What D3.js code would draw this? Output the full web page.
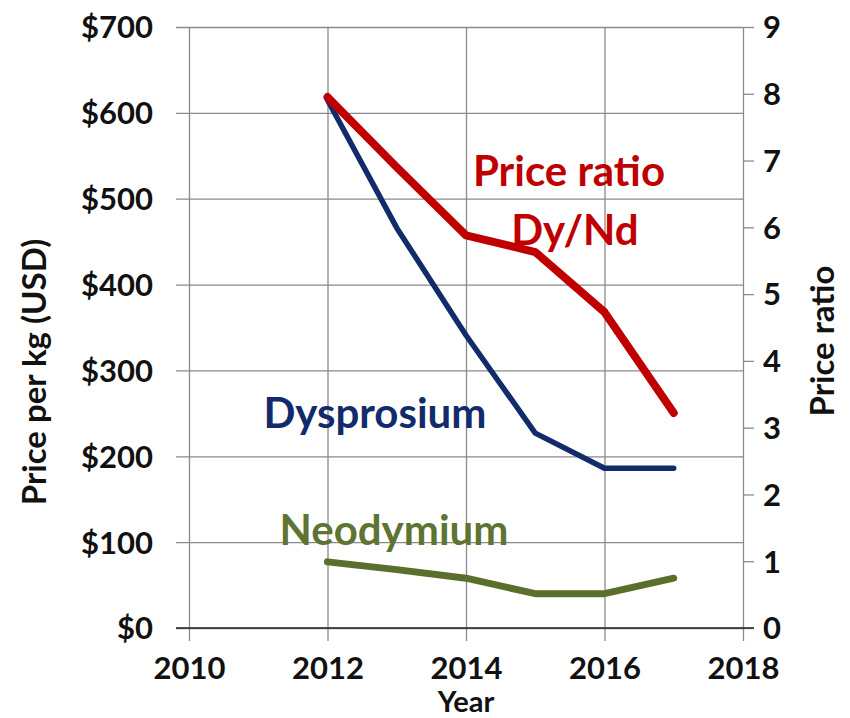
<!DOCTYPE html>
<html>
<head>
    <script src="https://d3js.org/d3.v7.min.js"></script>
    <style>
        body {margin: 0; background: #fff; font-family: Lato, "Open Sans", sans-serif;}
        .grid line { stroke: #8a8a8a; stroke-width: 1.3px; }
        .tick text { font-weight: bold; font-size: 31px; fill: #111; }
        .axis-title { font-weight: bold; font-size: 33px; fill: #111; }
        .series-label { font-weight: bold; font-size: 42px; }
    </style>
</head>
<body>
    <svg width="850" height="718"></svg>
    <script>
        // Values
        let years = [2012, 2013, 2014, 2015, 2016, 2017];
        let dysprosium = [615, 466, 341, 227, 186, 186];
        let neodymium = [77, 68, 58, 40, 40, 58];
        let priceRatio = [7.95, 6.9, 5.88, 5.63, 4.73, 3.22];

        let xTicks = [2010, 2012, 2014, 2016, 2018];
        let yLeftTicks = [0, 100, 200, 300, 400, 500, 600, 700];
        let yRightTicks = [0, 1, 2, 3, 4, 5, 6, 7, 8, 9];

        let svg = d3.select("svg");
        let mLeft = 189, mRight = 743, mTop = 27, mBottom = 628;

        let x = d3.scaleLinear().domain([2010, 2018]).range([mLeft, mRight]);
        let yLeft = d3.scaleLinear().domain([0, 700]).range([mBottom, mTop]);
        let yRight = d3.scaleLinear().domain([0, 9]).range([mBottom, mTop]);

        // horizontal grid + left axis (ticks stick out on the left)
        svg.append("g")
            .attr("class", "grid")
            .attr("transform", `translate(${mLeft},0)`)
            .call(d3.axisLeft(yLeft).tickValues(yLeftTicks)
                .tickSize(-(mRight - mLeft)).tickSizeOuter(0)
                .tickFormat(d => "$" + d))
            .call(g => g.select(".domain").remove())
            .call(g => g.selectAll(".tick line").attr("x1", -13))
            .call(g => g.selectAll(".tick text").attr("x", -36).attr("dy", "0.35em"));

        // vertical grid + x axis
        svg.append("g")
            .attr("class", "grid")
            .attr("transform", `translate(0,${mBottom})`)
            .call(d3.axisBottom(x).tickValues(xTicks)
                .tickSize(-(mBottom - mTop)).tickSizeOuter(0)
                .tickFormat(d3.format("d")))
            .call(g => g.select(".domain").remove())
            .call(g => g.selectAll(".tick line").attr("y1", 13))
            .call(g => g.selectAll(".tick text").attr("y", 29).attr("dy", "0.71em"));

        // right axis: outward ticks only
        svg.append("g")
            .attr("class", "grid")
            .attr("transform", `translate(${mRight},0)`)
            .call(d3.axisRight(yRight).tickValues(yRightTicks)
                .tickSize(11).tickPadding(9))
            .call(g => g.select(".domain").remove())
            .call(g => g.selectAll(".tick text").attr("dy", "0.35em"));

        // dark x axis line
        svg.append("line")
            .attr("x1", mLeft - 13).attr("x2", mRight + 11)
            .attr("y1", yLeft(0)).attr("y2", yLeft(0))
            .attr("stroke", "#222").attr("stroke-width", 1.5);

        svg.selectAll(".tick text").style("font-family", "Lato, sans-serif");

        let line = (yScale) => d3.line().x((d, i) => x(years[i])).y(d => yScale(d));

        svg.append("path").datum(neodymium)
            .attr("d", line(yLeft))
            .attr("fill", "none").attr("stroke", "#5b6e2c")
            .attr("stroke-width", 7).attr("stroke-linejoin", "round").attr("stroke-linecap", "round");

        svg.append("path").datum(dysprosium)
            .attr("d", line(yLeft))
            .attr("fill", "none").attr("stroke", "#122b6b")
            .attr("stroke-width", 5.5).attr("stroke-linejoin", "round").attr("stroke-linecap", "round");

        svg.append("path").datum(priceRatio)
            .attr("d", line(yRight))
            .attr("fill", "none").attr("stroke", "#c00000")
            .attr("stroke-width", 8).attr("stroke-linejoin", "round").attr("stroke-linecap", "round");

        // series labels
        svg.append("text").attr("class", "series-label").attr("fill", "#c00000")
            .attr("x", 569).attr("y", 186).attr("text-anchor", "middle").text("Price ratio");
        svg.append("text").attr("class", "series-label").attr("fill", "#c00000")
            .attr("x", 575).attr("y", 245).attr("text-anchor", "middle").text("Dy/Nd");
        svg.append("text").attr("class", "series-label").attr("fill", "#122b6b")
            .attr("x", 375).attr("y", 428).attr("text-anchor", "middle").text("Dysprosium");
        svg.append("text").attr("class", "series-label").attr("fill", "#5e7433")
            .attr("x", 394).attr("y", 545).attr("text-anchor", "middle").text("Neodymium");

        // axis titles
        svg.append("text").attr("class", "axis-title")
            .attr("transform", "translate(46,372) rotate(-90)")
            .attr("text-anchor", "middle").text("Price per kg (USD)");
        svg.append("text").attr("class", "axis-title")
            .attr("transform", "translate(834,341) rotate(-90)")
            .attr("text-anchor", "middle").text("Price ratio");
        svg.append("text").attr("class", "axis-title")
            .attr("x", 466).attr("y", 712).style("font-size", "29px")
            .attr("text-anchor", "middle").text("Year");
    </script>
</body>
</html>
